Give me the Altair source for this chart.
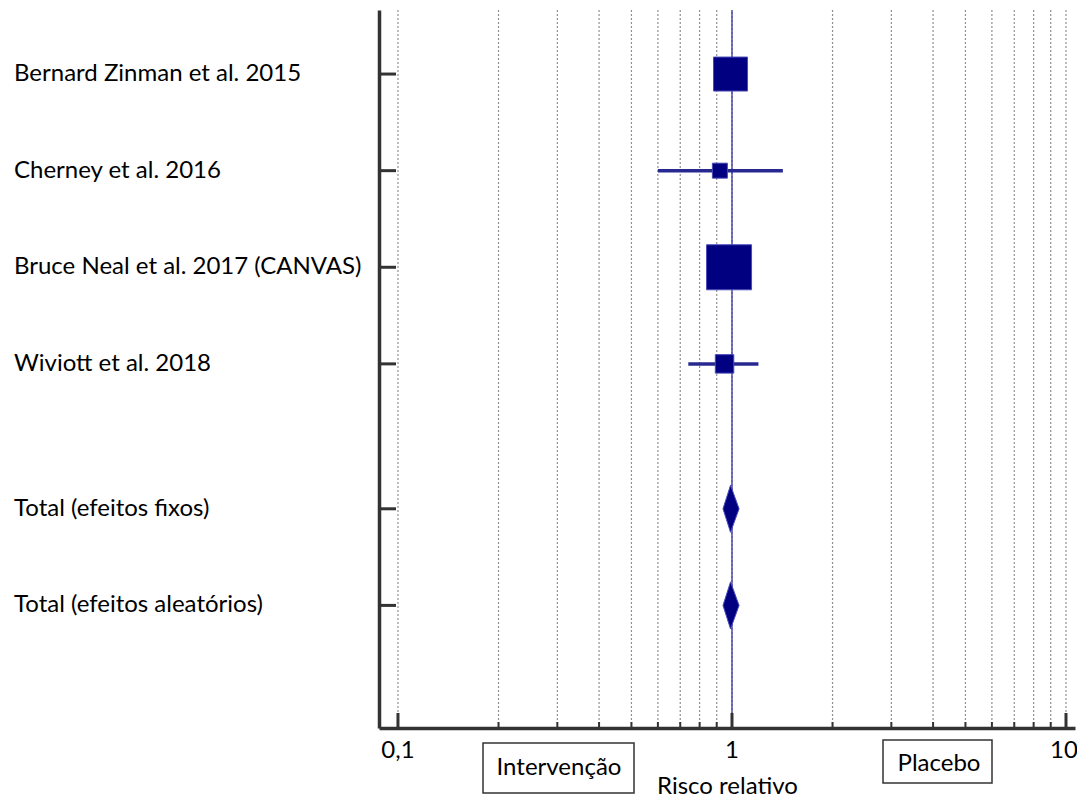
import altair as alt
import pandas as pd

# ---- data ----
labels = [
    "Bernard Zinman et al. 2015",
    "Cherney et al. 2016",
    "Bruce Neal et al. 2017 (CANVAS)",
    "Wiviott et al. 2018",
    "Total (efeitos fixos)",
    "Total (efeitos aleatórios)",
]
row_pos = [1, 2, 3, 4, 5.5, 6.5]
estimate = [0.99, 0.92, 0.98, 0.95, 0.99, 0.99]
ci_low = [0.89, 0.60, 0.87, 0.74, 0.94, 0.94]
ci_high = [1.08, 1.42, 1.10, 1.20, 1.05, 1.05]
weight = [30.8, 6.0, 54.0, 9.1]          # study weights (%)
is_total = [False, False, False, False, True, True]

grid_values = [0.1, 0.2, 0.3, 0.4, 0.5, 0.6, 0.7, 0.8, 0.9, 1,
               2, 3, 4, 5, 6, 7, 8, 9, 10]
major_ticks = [0.1, 1, 10]
major_tick_labels = ["0,1", "1", "10"]
minor_ticks = [0.2, 0.3, 0.4, 0.5, 0.6, 0.7, 0.8, 0.9,
               2, 3, 4, 5, 6, 7, 8, 9]

FONT = "Lato"
FS = 24
W, H = 696, 718
NAVY = "#000080"

df = pd.DataFrame({"label": labels, "row": row_pos, "est": estimate,
                   "lo": ci_low, "hi": ci_high, "total": is_total})
studies = df[~df.total].copy()
studies["weight"] = weight
totals = df[df.total]

# diamond outline points for the pooled estimates
half = 0.2435
dia_rows = []
for _, r in totals.iterrows():
    dia_rows.append({"label": r.label, "x": r.lo, "y": r.row, "y2": r.row})
    dia_rows.append({"label": r.label, "x": r.est, "y": r.row - half, "y2": r.row + half})
    dia_rows.append({"label": r.label, "x": r.hi, "y": r.row, "y2": r.row})
dia = pd.DataFrame(dia_rows)

xscale = alt.Scale(type="log", domain=[0.08774, 10.64], nice=False)
yscale = alt.Scale(domain=[0.337, 7.769], reverse=True, nice=False, zero=False)

xaxis = alt.Axis(
    values=major_ticks, labels=False,
    grid=False, ticks=False,
    domainColor="#333333", domainWidth=3.5,
    title="Risco relativo", titleFont=FONT, titleFontSize=FS,
    titleFontWeight="normal", titleColor="black", titlePadding=46,
)
yaxis = alt.Axis(labels=False, ticks=False, grid=False, domain=True,
                 domainColor="#333333", domainWidth=3.5, title=None)


def X(field):
    return alt.X(field, type="quantitative", scale=xscale, axis=xaxis)


def Y(field):
    return alt.Y(field, type="quantitative", scale=yscale, axis=yaxis)


# reference line at 1
ref = alt.Chart(pd.DataFrame({"v": [1]})).mark_rule(
    color="#3a3ab8", strokeWidth=1.6
).encode(x=X("v"))

grid = alt.Chart(pd.DataFrame({"v": grid_values})).mark_rule(
    color="#8f8f8f", strokeWidth=1.2, strokeDash=[2, 2]
).encode(x=X("v"))

ci = alt.Chart(studies).mark_rule(color="#282891", strokeWidth=3.5).encode(
    x=X("lo"), x2="hi:Q", y=Y("row"),
)

squares = alt.Chart(studies).mark_square(
    color=NAVY, opacity=1, stroke="#4a4ab8", strokeWidth=1
).encode(
    x=X("est"), y=Y("row"),
    size=alt.Size("weight:Q", scale=alt.Scale(domain=[0, 100], range=[0, 3750]), legend=None),
)

diamonds = alt.Chart(dia).mark_area(
    orient="vertical", color=NAVY, opacity=1, stroke="#4a4ab8", strokeWidth=1
).encode(
    x=X("x"), y=Y("y"), y2="y2:Q", detail="label:N",
)

yticks = alt.Chart(df).mark_rule(color="#333333", strokeWidth=3).encode(
    x=alt.value(0), x2=alt.value(17), y=Y("row"),
)

xmajor = alt.Chart(pd.DataFrame({"v": major_ticks})).mark_rule(
    color="#333333", strokeWidth=3).encode(
    x=X("v"), y=alt.value(H - 15), y2=alt.value(H),
)
xminor = alt.Chart(pd.DataFrame({"v": minor_ticks})).mark_rule(
    color="#333333", strokeWidth=2).encode(
    x=X("v"), y=alt.value(H - 6), y2=alt.value(H),
)

tick_df = pd.DataFrame({"v": major_ticks, "t": major_tick_labels})
tick_text = alt.Chart(tick_df.iloc[:2]).mark_text(
    align="center", baseline="middle", font=FONT, fontSize=FS, color="black"
).encode(x=X("v"), y=alt.value(H + 23), text="t:N")
tick_text_last = alt.Chart(tick_df.iloc[2:]).mark_text(
    align="center", baseline="middle", font=FONT, fontSize=FS, color="black", dx=-2
).encode(x=X("v"), y=alt.value(H + 23), text="t:N")

text_labels = alt.Chart(df).mark_text(
    align="left", baseline="middle", font=FONT, fontSize=FS, color="black"
).encode(
    x=alt.value(-365), y=Y("row"), text="label:N",
)

# annotation boxes
box_df = pd.DataFrame({
    "text": ["Intervenção", "Placebo"],
    "x0": [104, 504], "x1": [255, 613],
    "y0": [733, 730], "y1": [783, 773],
    "cx": [180, 560], "cy": [758, 754],
})
boxes = alt.layer(*[
    alt.Chart(box_df.iloc[[i]]).mark_rect(
        fill="white", stroke="#333333", strokeWidth=1.5
    ).encode(x=alt.value(int(box_df.x0[i])), x2=alt.value(int(box_df.x1[i])),
             y=alt.value(int(box_df.y0[i])), y2=alt.value(int(box_df.y1[i])))
    for i in range(len(box_df))
] + [
    alt.Chart(box_df.iloc[[i]]).mark_text(
        align="center", baseline="middle", font=FONT, fontSize=FS, color="black"
    ).encode(x=alt.value(int(box_df.cx[i])), y=alt.value(int(box_df.cy[i])), text="text:N")
    for i in range(len(box_df))
])

chart = alt.layer(
    ref, grid, ci, squares, diamonds, yticks, xmajor, xminor,
    tick_text, tick_text_last, text_labels, boxes
).properties(
    width=W, height=H,
    padding={"left": 371, "top": 2, "right": 2, "bottom": 71},
    autosize=alt.AutoSizeParams(type="none"),
    background="white",
).configure_view(stroke=None)

chart.save("out.html", embed_options={"renderer": "svg", "actions": False})
